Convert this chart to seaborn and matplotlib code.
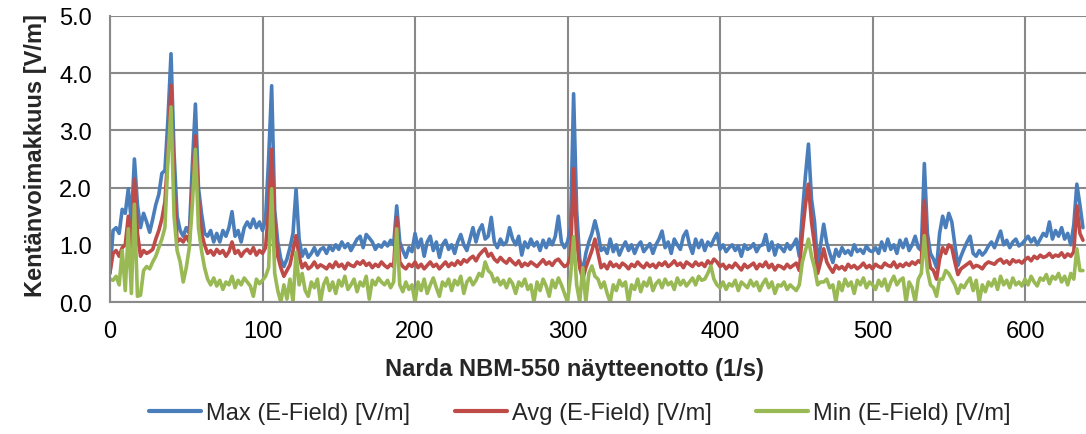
import numpy as np
import pandas as pd
import matplotlib
matplotlib.use("Agg")
import matplotlib.pyplot as plt
import seaborn as sns

# Näytteet joka toinen sekunti (0, 2, 4, ... 638)
sample = list(range(0, 640, 2))

max_field = [
    0.50, 1.25, 1.30, 1.20, 1.62, 1.55, 1.98, 1.40, 2.50, 1.70,
    1.30, 1.55, 1.40, 1.22, 1.45, 1.70, 1.88, 2.25, 2.30, 3.20,
    4.34, 2.60, 1.50, 1.25, 1.15, 1.30, 1.20, 2.40, 3.46, 2.00,
    1.55, 1.20, 1.15, 1.25, 1.05, 1.20, 1.05, 1.25, 1.15, 1.30,
    1.58, 1.15, 1.25, 1.05, 1.30, 1.40, 1.30, 1.45, 1.30, 1.40,
    1.25, 1.45, 2.50, 3.78, 1.60, 1.05, 0.75, 0.62, 0.75, 0.95,
    1.20, 1.97, 1.10, 0.80, 0.92, 0.78, 0.85, 0.95, 0.82, 0.92,
    0.95, 0.85, 0.98, 0.90, 1.00, 0.92, 1.05, 0.95, 1.02, 0.90,
    1.00, 1.10, 1.15, 0.95, 1.18, 1.12, 1.05, 0.92, 1.00, 0.96,
    1.05, 0.98, 1.08, 1.00, 1.68, 1.05, 0.90, 0.78, 0.95, 0.88,
    1.20, 0.95, 1.10, 0.80, 1.05, 1.15, 0.90, 1.05, 0.78, 1.00,
    1.08, 0.92, 1.00, 0.85, 1.05, 1.18, 1.00, 0.90, 1.10, 1.30,
    1.05, 1.25, 1.35, 1.10, 1.15, 1.48, 1.05, 0.95, 1.10, 1.00,
    1.05, 1.30, 1.10, 1.00, 1.15, 0.82, 1.05, 0.95, 1.10, 0.98,
    1.05, 0.90, 1.08, 0.95, 1.10, 1.00, 1.15, 1.50, 1.05, 0.95,
    1.05, 1.30, 3.64, 1.60, 0.75, 0.52, 0.85, 1.05, 1.20, 1.42,
    1.20, 0.90, 0.95, 0.85, 1.10, 0.88, 1.00, 0.82, 0.95, 1.05,
    0.90, 1.00, 0.85, 0.98, 1.05, 0.88, 0.95, 1.02, 0.85, 1.00,
    1.10, 1.24, 0.95, 1.05, 0.85, 1.10, 1.00, 0.92, 1.15, 1.24,
    1.00, 0.85, 1.10, 0.95, 1.08, 0.90, 1.05, 0.98, 1.10, 1.20,
    0.92, 1.00, 0.88, 0.95, 1.00, 0.90, 0.98, 0.80, 1.00, 0.92,
    0.95, 1.02, 0.88, 0.98, 1.00, 1.18, 0.90, 1.05, 0.82, 1.00,
    0.95, 0.88, 1.02, 0.92, 1.00, 1.10, 0.80, 1.55, 2.20, 2.76,
    1.80, 1.40, 0.65, 1.00, 1.36, 1.03, 0.85, 0.69, 0.92, 0.80,
    0.95, 0.85, 0.90, 0.82, 1.00, 0.88, 0.92, 0.85, 0.98, 0.90,
    0.88, 0.95, 0.85, 1.05, 0.90, 1.10, 0.92, 1.00, 0.85, 1.08,
    0.95, 1.10, 0.90, 1.00, 1.15, 0.95, 0.90, 2.42, 1.20, 0.85,
    0.75, 0.60, 1.20, 1.50, 1.30, 1.55, 1.40, 1.00, 0.64, 0.80,
    0.93, 1.05, 1.15, 0.85, 0.80, 0.90, 0.82, 0.88, 0.98, 1.05,
    0.95, 1.10, 1.24, 1.00, 1.08, 0.95, 1.05, 1.10, 0.98, 1.02,
    1.08, 1.15, 1.05, 1.12, 1.00, 1.10, 1.20, 1.15, 1.40, 1.10,
    1.25, 1.15, 1.30, 1.10, 1.20, 1.00, 1.35, 2.06, 1.70, 1.30,
]

avg_field = [
    0.52, 0.85, 0.90, 0.80, 0.95, 1.00, 1.50, 0.95, 2.15, 1.20,
    0.80, 0.90, 0.85, 0.88, 0.92, 1.10, 1.25, 1.45, 1.75, 2.60,
    3.79, 2.00, 1.05, 1.10, 1.05, 1.15, 1.05, 2.00, 2.90, 1.80,
    1.20, 1.00, 0.85, 0.90, 0.82, 0.92, 0.85, 0.90, 0.80, 0.88,
    1.05, 0.85, 0.90, 0.80, 0.88, 0.92, 0.85, 0.95, 0.82, 0.90,
    0.85, 0.95, 1.60, 2.67, 1.40, 0.80, 0.60, 0.45, 0.55, 0.65,
    0.90, 1.16, 0.80, 0.60, 0.68, 0.58, 0.62, 0.70, 0.60, 0.65,
    0.62, 0.58, 0.66, 0.60, 0.70, 0.62, 0.66, 0.58, 0.68, 0.64,
    0.62, 0.70, 0.66, 0.72, 0.64, 0.68, 0.60, 0.66, 0.62, 0.70,
    0.64, 0.60, 0.66, 0.62, 1.48, 0.70, 0.62, 0.58, 0.66, 0.62,
    0.70, 0.60, 0.66, 0.58, 0.64, 0.70, 0.62, 0.66, 0.58, 0.64,
    0.70, 0.62, 0.68, 0.64, 0.72, 0.66, 0.74, 0.70, 0.76, 0.80,
    0.72, 0.82, 0.88, 0.93, 0.80, 0.85, 0.75, 0.70, 0.78, 0.72,
    0.68, 0.76, 0.70, 0.65, 0.72, 0.62, 0.68, 0.64, 0.70, 0.66,
    0.62, 0.68, 0.74, 0.66, 0.70, 0.64, 0.72, 0.75, 0.68, 0.62,
    0.65, 0.80, 2.33, 1.10, 0.60, 0.40, 0.60, 0.75, 0.90, 1.10,
    0.85, 0.60, 0.66, 0.58, 0.70, 0.62, 0.66, 0.60, 0.68, 0.64,
    0.58, 0.66, 0.62, 0.70, 0.64, 0.60, 0.68, 0.62, 0.66, 0.60,
    0.68, 0.64, 0.70, 0.62, 0.66, 0.72, 0.64, 0.68, 0.60, 0.70,
    0.66, 0.62, 0.70, 0.64, 0.68, 0.62, 0.72, 0.66, 0.75, 0.70,
    0.62, 0.66, 0.58, 0.64, 0.60, 0.68, 0.62, 0.56, 0.66, 0.60,
    0.64, 0.68, 0.58, 0.66, 0.62, 0.70, 0.60, 0.66, 0.56, 0.64,
    0.62, 0.58, 0.66, 0.60, 0.64, 0.68, 0.55, 1.20, 1.70, 2.06,
    1.40, 1.00, 0.50, 0.70, 0.93, 0.70, 0.60, 0.52, 0.64, 0.58,
    0.62, 0.56, 0.66, 0.60, 0.64, 0.58, 0.62, 0.68, 0.60, 0.64,
    0.58, 0.66, 0.62, 0.60, 0.68, 0.64, 0.62, 0.70, 0.60, 0.66,
    0.62, 0.68, 0.64, 0.70, 0.66, 0.72, 0.68, 1.77, 0.90, 0.60,
    0.55, 0.40, 0.75, 0.95, 0.85, 1.00, 0.95, 0.70, 0.48, 0.58,
    0.62, 0.66, 0.70, 0.60, 0.64, 0.62, 0.58, 0.66, 0.70, 0.68,
    0.66, 0.72, 0.75, 0.68, 0.72, 0.66, 0.74, 0.70, 0.72, 0.68,
    0.74, 0.78, 0.72, 0.80, 0.76, 0.82, 0.78, 0.80, 0.85, 0.78,
    0.82, 0.80, 0.86, 0.78, 0.84, 0.80, 0.88, 1.68, 1.20, 1.08,
]

min_field = [
    0.40, 0.38, 0.45, 0.30, 0.90, 0.20, 1.28, 0.15, 1.71, 0.10,
    0.12, 0.55, 0.62, 0.58, 0.70, 0.80, 0.95, 1.10, 1.30, 2.50,
    3.41, 1.50, 0.90, 0.70, 0.35, 0.60, 0.95, 1.70, 2.67, 1.30,
    0.90, 0.60, 0.40, 0.30, 0.42, 0.28, 0.38, 0.22, 0.35, 0.30,
    0.45, 0.25, 0.38, 0.30, 0.42, 0.35, 0.28, 0.10, 0.40, 0.32,
    0.38, 0.45, 0.60, 1.98, 0.50, 0.20, 0.00, 0.30, 0.05, 0.40,
    0.00, 0.87, 0.30, 0.50, 0.20, 0.10, 0.35, 0.25, 0.40, 0.00,
    0.30, 0.42, 0.20, 0.35, 0.15, 0.38, 0.28, 0.45, 0.22, 0.30,
    0.40, 0.18, 0.35, 0.28, 0.45, 0.05, 0.38, 0.30, 0.42, 0.35,
    0.30, 0.38, 0.25, 0.35, 1.28, 0.30, 0.18, 0.35, 0.22, 0.30,
    0.00, 0.35, 0.20, 0.40, 0.15, 0.30, 0.42, 0.25, 0.10, 0.35,
    0.28, 0.40, 0.20, 0.38, 0.30, 0.45, 0.15, 0.35, 0.42, 0.30,
    0.38, 0.50, 0.45, 0.70, 0.55, 0.50, 0.35, 0.42, 0.30, 0.38,
    0.25, 0.40, 0.32, 0.15, 0.35, 0.28, 0.40, 0.22, 0.30, 0.00,
    0.35, 0.20, 0.40, 0.28, 0.10, 0.38, 0.25, 0.42, 0.30, 0.15,
    0.00, 0.45, 1.14, 0.30, 0.00, 0.60, 0.00, 0.50, 0.63, 0.45,
    0.40, 0.25, 0.35, 0.15, 0.00, 0.30, 0.20, 0.38, 0.28, 0.35,
    0.00, 0.30, 0.22, 0.40, 0.18, 0.35, 0.28, 0.42, 0.20, 0.32,
    0.38, 0.25, 0.40, 0.30, 0.35, 0.22, 0.42, 0.30, 0.38, 0.28,
    0.35, 0.42, 0.30, 0.45, 0.38, 0.40, 0.50, 0.63, 0.40, 0.30,
    0.25, 0.35, 0.22, 0.32, 0.28, 0.38, 0.20, 0.35, 0.30, 0.25,
    0.38, 0.28, 0.35, 0.20, 0.32, 0.40, 0.25, 0.35, 0.15, 0.30,
    0.28, 0.35, 0.22, 0.30, 0.25, 0.20, 0.30, 0.70, 0.90, 1.10,
    0.80, 0.60, 0.30, 0.35, 0.35, 0.40, 0.25, 0.30, 0.00, 0.35,
    0.20, 0.40, 0.28, 0.35, 0.15, 0.38, 0.30, 0.42, 0.25, 0.35,
    0.30, 0.22, 0.38, 0.28, 0.40, 0.20, 0.35, 0.45, 0.30, 0.38,
    0.42, 0.00, 0.35, 0.25, 0.00, 0.40, 0.50, 1.16, 0.55, 0.30,
    0.25, 0.10, 0.40, 0.40, 0.55, 0.50, 0.40, 0.30, 0.15, 0.30,
    0.25, 0.35, 0.42, 0.20, 0.38, 0.00, 0.30, 0.18, 0.35, 0.28,
    0.40, 0.22, 0.45, 0.30, 0.38, 0.25, 0.42, 0.30, 0.35, 0.28,
    0.40, 0.30, 0.45, 0.35, 0.28, 0.42, 0.38, 0.48, 0.32, 0.45,
    0.40, 0.50, 0.35, 0.45, 0.30, 0.50, 0.40, 0.93, 0.55, 0.55,
]

series_names = ["Max (E-Field) [V/m]", "Avg (E-Field) [V/m]", "Min (E-Field) [V/m]"]
colors = ["#4A7EBB", "#BE4B48", "#98B954"]
y_ticks = [0.0, 1.0, 2.0, 3.0, 4.0, 5.0]
x_ticks = [0, 100, 200, 300, 400, 500, 600]

df = pd.DataFrame({
    "sample": sample * 3,
    "value": max_field + avg_field + min_field,
    "series": [series_names[0]] * len(sample) + [series_names[1]] * len(sample)
              + [series_names[2]] * len(sample),
})

sns.set_style("white")
plt.rcParams["font.family"] = ["Liberation Sans", "DejaVu Sans"]

fig = plt.figure(figsize=(10.86, 4.35), dpi=100)
ax = fig.add_axes([0.1013, 0.3034, 0.8987, 0.6576])

sns.lineplot(data=df, x="sample", y="value", hue="series", hue_order=series_names,
             palette=colors, linewidth=2.6, ax=ax, legend=False)

ax.set_xlim(0, 640)
ax.set_ylim(0, 5)
ax.set_xticks(x_ticks)
ax.set_yticks(y_ticks)
ax.set_yticklabels([f"{v:.1f}" for v in y_ticks])
ax.tick_params(axis="both", length=0, labelsize=17, pad=13, colors="black")
ax.grid(True, color="#898989", linewidth=1.5)
ax.set_axisbelow(True)
for side in ["top", "right"]:
    ax.spines[side].set_visible(False)
for side in ["left", "bottom"]:
    ax.spines[side].set_color("#898989")
    ax.spines[side].set_linewidth(1.5)

ax.set_xlabel("Narda NBM-550 näytteenotto (1/s)", fontsize=17, fontweight="bold")
ax.set_ylabel("Kentänvoimakkuus [V/m]", fontsize=17, fontweight="bold")
ax.xaxis.set_label_coords(0.476, -0.193)
ax.yaxis.set_label_coords(-0.065, 0.517)

handles = [plt.Line2D([], [], color=c, linewidth=3) for c in colors]
fig.legend(handles, series_names, loc="center", bbox_to_anchor=(0.534, 0.048),
           ncol=3, frameon=False, fontsize=17, handlelength=2.2,
           handletextpad=0.2, columnspacing=1.9)

fig.savefig("out.png", dpi=100)
